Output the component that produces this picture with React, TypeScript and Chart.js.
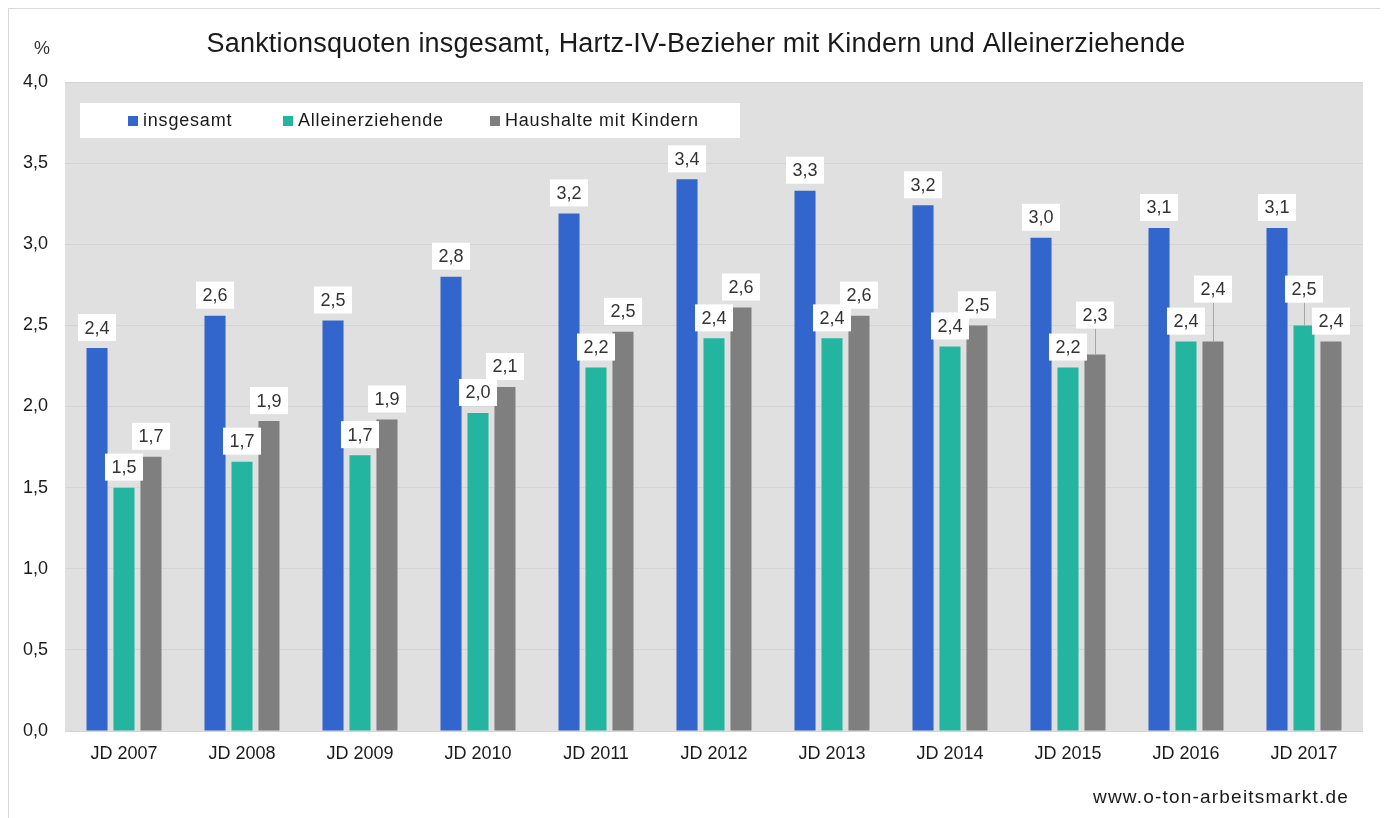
import React, { useEffect, useRef } from "react";
import { Chart, registerables } from "chart.js";

Chart.register(...registerables);

const categories = ["JD 2007", "JD 2008", "JD 2009", "JD 2010", "JD 2011", "JD 2012", "JD 2013", "JD 2014", "JD 2015", "JD 2016", "JD 2017"];
const insgesamt = [2.36, 2.56, 2.53, 2.8, 3.19, 3.4, 3.33, 3.24, 3.04, 3.1, 3.1];
const alleinerziehende = [1.5, 1.66, 1.7, 1.96, 2.24, 2.42, 2.42, 2.37, 2.24, 2.4, 2.5];
const haushalte = [1.69, 1.91, 1.92, 2.12, 2.46, 2.61, 2.56, 2.5, 2.32, 2.4, 2.4];
const seriesNames = ["insgesamt", "Alleinerziehende", "Haushalte mit Kindern"];
const seriesColors = ["#3366cc", "#24b5a0", "#7f7f7f"];
const yTicks = [0, 0.5, 1, 1.5, 2, 2.5, 3, 3.5, 4];
const titleText = "Sanktionsquoten insgesamt, Hartz-IV-Bezieher mit Kindern und Alleinerziehende";
const unitText = "%";
const sourceText = "www.o-ton-arbeitsmarkt.de";

const FONT = "'Liberation Sans', Arial, sans-serif";
const fmt = (v: number) => v.toFixed(1).replace(".", ",");

const bgPlugin = {
  id: "plotBg",
  beforeDraw(chart: any) {
    const { ctx, chartArea } = chart;
    ctx.save();
    ctx.fillStyle = "#e0e0e0";
    ctx.fillRect(chartArea.left, chartArea.top, chartArea.right - chartArea.left, chartArea.bottom - chartArea.top);
    ctx.restore();
  },
};

const decorPlugin = {
  id: "decor",
  afterDraw(chart: any) {
    const { ctx, chartArea, width } = chart;
    ctx.save();
    ctx.textBaseline = "middle";
    // title
    ctx.fillStyle = "#1a1a1a";
    ctx.font = `27px ${FONT}`;
    ctx.letterSpacing = "0.2px";
    ctx.textAlign = "center";
    ctx.fillText(titleText, width / 2, 36);
    // unit
    ctx.letterSpacing = "0px";
    ctx.font = `18px ${FONT}`;
    ctx.fillStyle = "#333";
    ctx.fillText(unitText, 33, 40);
    // source
    ctx.textAlign = "right";
    ctx.font = `19px ${FONT}`;
    ctx.letterSpacing = "1.2px";
    ctx.fillStyle = "#1a1a1a";
    ctx.fillText(sourceText, 1340, 789);
    // legend
    const lx = chartArea.left + 15;
    const ly = chartArea.top + 21;
    ctx.fillStyle = "#ffffff";
    ctx.fillRect(lx, ly, 660, 35);
    const offs = [48, 203, 410];
    ctx.font = `18px ${FONT}`;
    ctx.letterSpacing = "0.8px";
    ctx.textAlign = "left";
    for (let i = 0; i < seriesNames.length; i++) {
      ctx.fillStyle = seriesColors[i];
      ctx.fillRect(lx + offs[i], ly + 13, 10, 10);
      ctx.fillStyle = "#1a1a1a";
      ctx.fillText(seriesNames[i], lx + offs[i] + 15, ly + 18.5);
    }
    ctx.restore();
  },
};

const labelPlugin = {
  id: "barLabels",
  afterDatasetsDraw(chart: any) {
    const { ctx } = chart;
    const n = chart.data.labels.length;
    const boxH = 27;
    const padX = 6.5;
    const gap = 7;
    const tolerance = 8;
    ctx.save();
    ctx.font = `18px ${FONT}`;
    ctx.textAlign = "center";
    ctx.textBaseline = "middle";
    for (let i = 0; i < n; i++) {
      const items: any[] = [];
      chart.data.datasets.forEach((ds: any, d: number) => {
        const el = chart.getDatasetMeta(d).data[i];
        items.push({ v: ds.data[i], x: el.x, y: el.y, d });
      });
      items.sort((a, b) => a.v - b.v || a.d - b.d);
      const placed: any[] = [];
      for (const it of items) {
        const text = fmt(it.v);
        const w = ctx.measureText(text).width + padX * 2;
        let bottom = it.y - gap;
        const left = it.x - w / 2;
        const right = it.x + w / 2;
        let moved = true;
        while (moved) {
          moved = false;
          for (const p of placed) {
            const hOver = left < p.right && right > p.left;
            const vOverlap = Math.min(bottom, p.bottom) - Math.max(bottom - boxH, p.top);
            if (hOver && vOverlap > tolerance) {
              bottom = p.top - 5;
              moved = true;
            }
          }
        }
        placed.push({ left, right, top: bottom - boxH, bottom, text, it });
      }
      for (let k = placed.length - 1; k >= 0; k--) {
        const p = placed[k];
        const it = p.it;
        if (p.bottom < it.y - gap - 1) {
          ctx.strokeStyle = "#a6a6a6";
          ctx.lineWidth = 1;
          ctx.beginPath();
          ctx.moveTo(Math.round(it.x) + 0.5, p.bottom);
          ctx.lineTo(Math.round(it.x) + 0.5, it.y);
          ctx.stroke();
        }
        ctx.fillStyle = "#ffffff";
        ctx.fillRect(p.left, p.top, p.right - p.left, boxH);
        ctx.fillStyle = "#333";
        ctx.fillText(p.text, it.x, p.top + boxH / 2 + 1);
      }
    }
    ctx.restore();
  },
};

export default function App() {
  const ref = useRef<HTMLCanvasElement>(null);
  useEffect(() => {
    if (!ref.current) return;
    const values = [insgesamt, alleinerziehende, haushalte];
    const chart = new Chart(ref.current, {
      type: "bar",
      data: {
        labels: categories,
        datasets: values.map((vals, i) => ({
          label: seriesNames[i],
          data: vals,
          backgroundColor: seriesColors[i],
          categoryPercentage: 0.686,
          barPercentage: 0.78,
        })),
      },
      plugins: [bgPlugin, labelPlugin, decorPlugin],
      options: {
        animation: false,
        responsive: false,
        layout: { padding: { left: 0, right: 20, top: 73, bottom: 0 } },
        plugins: { legend: { display: false }, tooltip: { enabled: false }, title: { display: false } },
        scales: {
          x: {
            grid: { display: false, drawTicks: false },
            border: { display: false },
            ticks: { color: "#1a1a1a", font: { family: FONT, size: 18 }, padding: 12 },
            afterFit: (s: any) => { s.height = 87; },
          },
          y: {
            min: 0,
            max: 4,
            afterBuildTicks: (s: any) => { s.ticks = yTicks.map((v) => ({ value: v })); },
            grid: { color: "#d4d4d4", drawTicks: false },
            border: { display: false },
            ticks: { color: "#1a1a1a", font: { family: FONT, size: 18 }, padding: 17, callback: (v: any) => fmt(Number(v)) },
            afterFit: (s: any) => { s.width = 56; },
          },
        },
      },
    } as any);
    return () => chart.destroy();
  }, []);
  return (
    <div style={{ width: 1374, height: 809, border: "1px solid #d9d9d9", borderBottom: "none" }}>
      <canvas ref={ref} width={1374} height={809} style={{ display: "block" }} />
    </div>
  );
}
